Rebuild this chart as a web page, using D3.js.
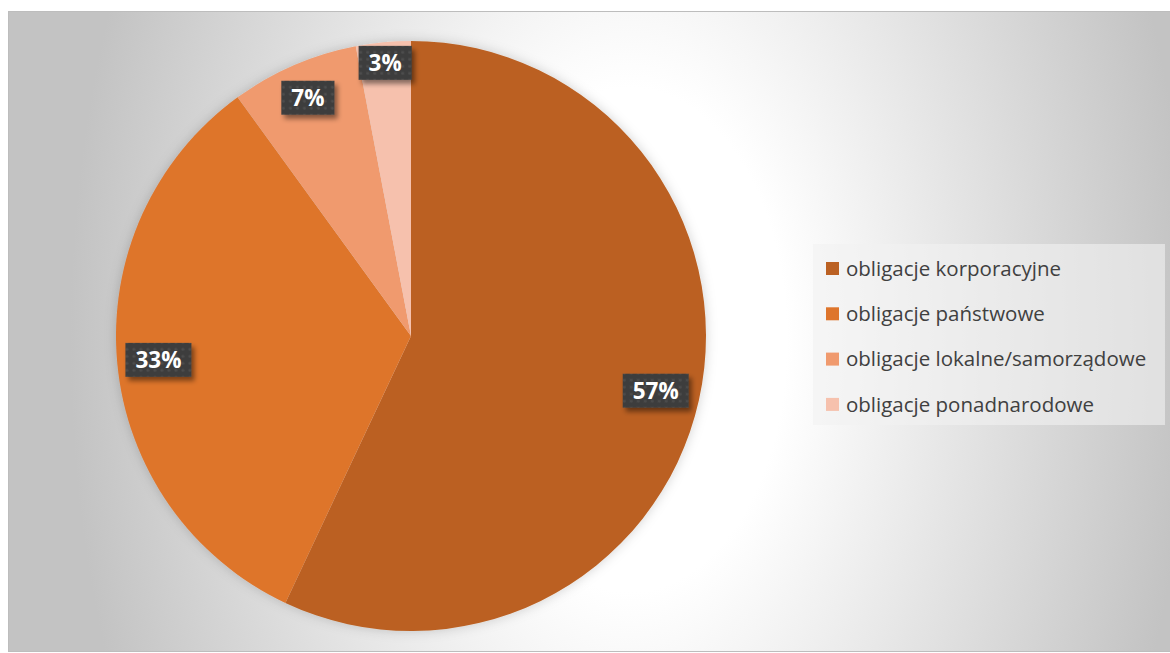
<!DOCTYPE html>
<html>
<head>
<meta charset="utf-8">
<script src="https://cdnjs.cloudflare.com/ajax/libs/d3/7.8.5/d3.min.js"></script>
<style>
  html, body { margin: 0; padding: 0; background: #ffffff; }
  svg { display: block; }
</style>
</head>
<body>
<svg id="chart" width="1170" height="653"></svg>
<script>
// Bond portfolio structure (%)
const categories = [
  "obligacje korporacyjne",
  "obligacje państwowe",
  "obligacje lokalne/samorządowe",
  "obligacje ponadnarodowe"
];
const shares = [57, 33, 7, 3];
const valueLabels = ["57%", "33%", "7%", "3%"];

// Styling and layout
const sliceColors = ["#bb6123", "#de752c", "#f09a6e", "#f6c1ad"];
const labelRadiusFrac = [0.85, 0.86, 0.88, 0.93];

const W = 1170, H = 653;
const svg = d3.select("#chart");
const defs = svg.append("defs");

// chart area background gradient
const bg = defs.append("radialGradient")
  .attr("id", "bgGrad")
  .attr("gradientUnits", "userSpaceOnUse")
  .attr("cx", 0).attr("cy", 0).attr("r", 1)
  .attr("gradientTransform", "translate(630,340) scale(560,900)");
bg.append("stop").attr("offset", 0).attr("stop-color", "#ffffff");
bg.append("stop").attr("offset", 0.28).attr("stop-color", "#ffffff");
bg.append("stop").attr("offset", 1).attr("stop-color", "#c3c3c3");

// soft shadow round the pie
const pieShadow = defs.append("filter").attr("id", "pieShadow")
  .attr("x", "-20%").attr("y", "-20%").attr("width", "140%").attr("height", "140%");
pieShadow.append("feDropShadow")
  .attr("dx", 0).attr("dy", 0).attr("stdDeviation", 6)
  .attr("flood-color", "#000").attr("flood-opacity", 0.18);

// shadow under data label boxes
const boxShadow = defs.append("filter").attr("id", "boxShadow")
  .attr("x", "-30%").attr("y", "-30%").attr("width", "170%").attr("height", "170%");
boxShadow.append("feDropShadow")
  .attr("dx", 3).attr("dy", 4).attr("stdDeviation", 2.5)
  .attr("flood-color", "#000").attr("flood-opacity", 0.45);

// dotted texture of label boxes
const dots = defs.append("pattern").attr("id", "dots")
  .attr("patternUnits", "userSpaceOnUse").attr("width", 7).attr("height", 7);
dots.append("rect").attr("width", 7).attr("height", 7).attr("fill", "#3e3e3e");
dots.append("circle").attr("cx", 3.5).attr("cy", 3.5).attr("r", 1.3).attr("fill", "#4f4f4f");

// chart area
svg.append("rect")
  .attr("x", 8.5).attr("y", 11.5).attr("width", W).attr("height", 640)
  .attr("fill", "url(#bgGrad)")
  .attr("stroke", "#bdbdbd").attr("stroke-width", 1);

// pie
const cx = 411, cy = 336, R = 295;
const pie = d3.pie().sort(null).value(d => d)(shares);
const arc = d3.arc().innerRadius(0).outerRadius(R);

const g = svg.append("g").attr("transform", `translate(${cx},${cy})`);
g.append("g").attr("filter", "url(#pieShadow)")
  .selectAll("path")
  .data(pie)
  .join("path")
  .attr("d", arc)
  .attr("fill", (d, i) => sliceColors[i]);

// data labels
const labels = g.selectAll("g.lbl")
  .data(pie)
  .join("g")
  .attr("class", "lbl")
  .attr("transform", (d, i) => {
    const a = (d.startAngle + d.endAngle) / 2;
    const r = R * labelRadiusFrac[i];
    return `translate(${r * Math.sin(a)},${-r * Math.cos(a)})`;
  });

labels.each(function (d, i) {
  const sel = d3.select(this);
  const t = sel.append("text")
    .attr("text-anchor", "middle")
    .attr("dy", "0.36em")
    .attr("font-family", "'Open Sans', Lato, sans-serif")
    .attr("font-weight", 700)
    .attr("font-size", 22.5)
    .attr("fill", "#ffffff")
    .text(valueLabels[i]);
  const w = t.node().getComputedTextLength() + 20;
  const h = 34;
  sel.insert("rect", "text")
    .attr("x", -w / 2).attr("y", -h / 2)
    .attr("width", w).attr("height", h)
    .attr("fill", "url(#dots)")
    .attr("filter", "url(#boxShadow)");
});

// legend
const legend = svg.append("g").attr("transform", "translate(813,244)");
legend.append("rect")
  .attr("width", 352).attr("height", 181)
  .attr("fill", "#f2f2f2").attr("fill-opacity", 0.6);

const rowH = 45.3;
const items = legend.selectAll("g.item")
  .data(categories)
  .join("g")
  .attr("class", "item")
  .attr("transform", (d, i) => `translate(0,${24.5 + i * rowH})`);
items.append("rect")
  .attr("x", 13).attr("y", -6.5).attr("width", 13).attr("height", 13)
  .attr("fill", (d, i) => sliceColors[i]);
items.append("text")
  .attr("x", 33).attr("dy", "0.35em")
  .attr("font-family", "'Open Sans', Lato, sans-serif")
  .attr("font-size", 20.5)
  .attr("fill", "#404040")
  .text(d => d);
</script>
</body>
</html>
